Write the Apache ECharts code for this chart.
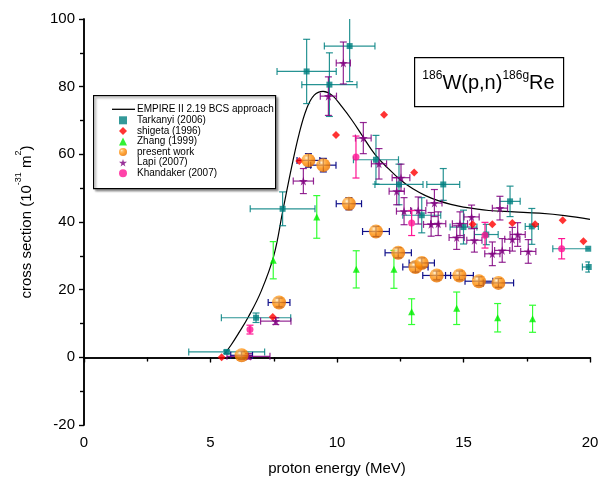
<!DOCTYPE html>
<html><head><meta charset="utf-8">
<script src="https://cdn.jsdelivr.net/npm/echarts@6/dist/echarts.min.js"></script>
<style>html,body{margin:0;padding:0;background:#fff}#c{width:607px;height:487px}</style>
</head><body><div id="c"></div>
<script>
// EMPIRE II curve
const curveE = [5.55,5.8,6.1,6.5,7.0,7.5,7.85,8.2,8.5,8.8,9.1,9.45,9.8,10.2,10.6,11.0,11.5,12.0,12.5,13.0,13.5,14.0,14.5,15.0,16.0,17.0,18.0,19.0,20.0];
const curveS = [1,3.5,7,12,19.5,30,43,56,66,73.5,77.5,78.6,77.5,74,70,65.5,60,56,52.5,49.8,47.8,46.3,45.2,44.4,43.4,43.0,42.6,41.9,40.8];
// Tarkanyi (2006)
const tarkE  = [5.64,6.8,7.85,8.8,9.7,10.5,11.54,12.45,14.2,13.35,15.0,15.9,16.84,17.7,19.93,19.95];
const tarkS  = [1.6,11.7,43.9,84.5,80.6,92,58.4,51.1,51.1,42,38.5,36.3,46.1,38.7,32.1,26.7];
const tarkDE = [1.5,1.37,1.28,1.17,1.09,1.0,0.89,0.95,0.65,0.75,0.53,0.47,0.4,0.26,1.4,0.25];
const tarkDS = [0.5,1.4,5,9.5,9.4,10.5,7.2,6,4.7,5.2,5,3,4.5,5.3,0,1.5];
// shigeta (1996)
const shigE = [5.44,7.46,8.51,9.96,11.86,13.05,15.36,16.14,16.93,17.83,18.92,19.74];
const shigS = [0,11.9,58,65.7,71.7,54.6,39.3,39.3,39.7,39.3,40.5,34.3];
// Zhang (1999)
const zhangE  = [7.48,9.2,10.76,12.25,12.95,14.73,16.35,17.73];
const zhangS  = [28.7,41.5,26,26,13.5,14.5,11.7,11.4];
const zhangDS = [5.5,6.3,5.5,5.6,3.8,4.8,4.2,4];
// present work
const presE  = [6.23,7.71,8.87,9.46,10.47,11.54,12.42,13.1,13.35,13.94,14.84,15.61,16.38];
const presS  = [0.6,16.2,58.2,56.8,45.4,37.2,30.9,26.7,27.9,24.2,24.2,22.5,22.0];
const presDE = [0.43,0.43,0.45,0.5,0.5,0.53,0.52,0.5,0.5,0.55,0.55,0.55,0.6];
const presDS = [1.2,1.3,2,2,1.8,1.5,1.5,1.5,1.5,1.3,1.3,1.3,1.3];
// Lapi (2007)
const lapiE  = [6.5,7.58,8.67,9.66,10.25,11.04,11.66,12.53,12.36,12.65,13.21,13.85,13.72,14.0,14.73,14.86,15.32,15.43,16.14,16.53,16.44,16.93,17.14,17.56];
const lapiS  = [0.3,10.7,52.1,77.2,87,64.8,57.2,53.1,49.1,43.2,43.4,45.6,39.3,39.5,35.4,39.5,41.5,34.6,30.6,31.6,44.1,34.9,36.3,31.3];
const lapiDE = [0.85,0.6,0.4,0.32,0.28,0.31,0.3,0.35,0.3,0.3,0.3,0.3,0.3,0.3,0.3,0.3,0.3,0.3,0.3,0.3,0.3,0.3,0.3,0.3];
const lapiDS = [0.8,1,3.7,5.7,6.2,4.6,4.5,4,4,4,4,4,3.5,3.5,3.5,3.5,3.5,3.5,3.5,3.5,3.5,3.5,3.5,3.5];
// Khandaker (2007)
const khanE  = [6.56,10.75,12.95,15.85,18.88];
const khanS  = [8.2,59.2,39.7,36.1,32.1];
const khanDS = [1.3,6.2,3.7,3.8,3];

const xTicks = [0,5,10,15,20];
const yTicks = [-20,0,20,40,60,80,100];

const FONT = 'Liberation Sans, Arial, sans-serif';
const zip = (a,b) => a.map((v,i)=>[v,b[i]]);
const err4 = (e,s,de,ds) => e.map((v,i)=>[v,s[i],de?de[i]:0,ds?ds[i]:0]);

function errSeries(name, data, color, cap) {
  return {
    type: 'custom', name: name, data: data, clip: true, z: 3,
    encode: {x:0, y:1},
    renderItem: function(params, api) {
      const x=api.value(0), y=api.value(1), dx=api.value(2), dy=api.value(3);
      const st = {stroke: color, lineWidth: 1.2};
      const ch = [];
      if (dx > 0) {
        const l = api.coord([x-dx,y]), r = api.coord([x+dx,y]);
        ch.push({type:'line', shape:{x1:l[0],y1:l[1],x2:r[0],y2:r[1]}, style:st});
        ch.push({type:'line', shape:{x1:l[0],y1:l[1]-cap,x2:l[0],y2:l[1]+cap}, style:st});
        ch.push({type:'line', shape:{x1:r[0],y1:r[1]-cap,x2:r[0],y2:r[1]+cap}, style:st});
      }
      if (dy > 0) {
        const t = api.coord([x,y+dy]), b = api.coord([x,y-dy]);
        ch.push({type:'line', shape:{x1:t[0],y1:t[1],x2:b[0],y2:b[1]}, style:st});
        ch.push({type:'line', shape:{x1:t[0]-cap,y1:t[1],x2:t[0]+cap,y2:t[1]}, style:st});
        ch.push({type:'line', shape:{x1:b[0]-cap,y1:b[1],x2:b[0]+cap,y2:b[1]}, style:st});
      }
      return {type:'group', children: ch};
    }
  };
}

const star = 'path://M50,0 L61,35 L98,35 L68,57 L79,91 L50,70 L21,91 L32,57 L2,35 L39,35 Z';
const sphere = {type:'radial', x:0.35, y:0.32, r:0.75, colorStops:[
  {offset:0, color:'#fff4dc'}, {offset:0.18, color:'#ffb24a'}, {offset:0.55, color:'#ff8a00'}, {offset:1, color:'#e06a00'}]};

const axisLine = {show:true, lineStyle:{color:'#000', width:1.5}};
const legendText = {fontSize:10, color:'#000', fontFamily:FONT, lineHeight:10.6};
const chart = echarts.init(document.getElementById('c'), null, {renderer:'canvas'});
chart.setOption({
  animation: false,
  backgroundColor: '#fff',
  grid: {left:84, right:17, top:19, bottom:62},
  xAxis: [{
    type:'value', min:0, max:20, interval:5, position:'bottom',
    axisLine: axisLine,
    axisTick: {show:true, inside:false, length:5, lineStyle:{color:'#000', width:1.2}},
    minorTick: {show:true, splitNumber:2, length:4, lineStyle:{color:'#000', width:1.2}},
    splitLine: {show:false},
    axisLabel: {fontSize:15, color:'#000', fontFamily:FONT, margin:10,
      formatter: v => xTicks.indexOf(v) >= 0 ? String(v) : ''},
    name: 'proton energy (MeV)', nameLocation:'middle', nameGap:36,
    nameTextStyle: {fontSize:15, color:'#000', fontFamily:FONT}
  },{
    type:'value', min:0, max:20, interval:5, position:'top',
    axisLine: axisLine,
    axisTick: {show:true, inside:true, length:5, lineStyle:{color:'#000', width:1.2}},
    minorTick: {show:true, splitNumber:2, length:4, lineStyle:{color:'#000', width:1.2}},
    splitLine: {show:false}, axisLabel: {show:false}
  }],
  yAxis: [{
    type:'value', min:-20, max:100, interval:20, position:'left',
    axisLine: axisLine,
    axisTick: {show:true, inside:false, length:5, lineStyle:{color:'#000', width:1.2}},
    minorTick: {show:true, splitNumber:2, length:4, lineStyle:{color:'#000', width:1.2}},
    splitLine: {show:false},
    axisLabel: {fontSize:15, color:'#000', fontFamily:FONT, margin:9,
      formatter: v => yTicks.indexOf(v) >= 0 ? String(v) : ''},
    name: '{m|cross section (10}{s|-31}{m| m}{s|2}{m|)}', nameLocation:'middle', nameGap:50, nameRotate:90,
    nameTextStyle: {color:'#000', fontFamily:FONT, rich:{
      m:{fontSize:15, fontFamily:FONT, color:'#000', lineHeight:20, verticalAlign:'bottom'},
      s:{fontSize:9, fontFamily:FONT, color:'#000', lineHeight:20, verticalAlign:'top'}}}
  },{
    type:'value', min:-20, max:100, interval:20, position:'right',
    axisLine: axisLine,
    axisTick: {show:true, inside:true, length:5, lineStyle:{color:'#000', width:1.2}},
    minorTick: {show:true, splitNumber:2, length:4, lineStyle:{color:'#000', width:1.2}},
    splitLine: {show:false}, axisLabel: {show:false}
  }],
  legend: [{
    orient:'vertical', left:112, top:104, itemGap:0, itemWidth:23, itemHeight:1.3,
    padding:0, selectedMode:false, z:6,
    textStyle: Object.assign({padding:[0,0,0,-3]}, legendText),
    data: [{name:'EMPIRE II 2.19 BCS approach', icon:'rect', itemStyle:{color:'#000'}}]
  },{
    orient:'vertical', left:119, top:115, itemGap:0, itemWidth:8, itemHeight:8,
    padding:0, selectedMode:false, z:6,
    textStyle: Object.assign({padding:[0,0,0,5]}, legendText),
    data: [
      {name:'Tarkanyi (2006)', icon:'rect'},
      {name:'shigeta (1996)', icon:'diamond'},
      {name:'Zhang (1999)', icon:'triangle'},
      {name:'present work', icon:'circle'},
      {name:'Lapi (2007)', icon:star},
      {name:'Khandaker (2007)', icon:'circle'}
    ]
  }],
  graphic: [
    {type:'rect', left:93, top:95, z:0, shape:{width:182, height:93},
      style:{fill:'#fff', stroke:'#000', lineWidth:1.2, shadowColor:'rgba(0,0,0,0.35)', shadowOffsetX:2, shadowOffsetY:2, shadowBlur:2}},
    {type:'rect', left:414, top:57, z:0, shape:{width:149, height:49},
      style:{fill:'#fff', stroke:'#000', lineWidth:1.2}},
    {type:'text', x:488.5, y:81.5, z:5, style:{
      text:'{s|186}{m|W(p,n)}{s|186g}{m|Re}', align:'center', verticalAlign:'middle',
      rich:{m:{fontSize:20, fontFamily:FONT, fill:'#000', lineHeight:24, verticalAlign:'bottom'},
            s:{fontSize:12, fontFamily:FONT, fill:'#000', lineHeight:24, verticalAlign:'top'}}}}
  ],
  series: [
    {type:'line', name:'EMPIRE II 2.19 BCS approach', data: zip(curveE, curveS), smooth:0.4,
      symbol:'none', lineStyle:{color:'#000', width:1.2}, itemStyle:{color:'#000'}, z:2},
    errSeries('e_tark', err4(tarkE,tarkS,tarkDE,tarkDS), 'rgba(0,128,128,0.85)', 3.5),
    {type:'scatter', name:'Tarkanyi (2006)', data: zip(tarkE,tarkS), symbol:'rect', symbolSize:6,
      itemStyle:{color:'#008080'}, z:4},
    {type:'scatter', name:'shigeta (1996)', data: zip(shigE,shigS), symbol:'diamond', symbolSize:8,
      itemStyle:{color:'#ff0000'}, z:4},
    errSeries('e_zhang', err4(zhangE,zhangS,null,zhangDS), '#33ff33', 3.5),
    {type:'scatter', name:'Zhang (1999)', data: zip(zhangE,zhangS), symbol:'triangle', symbolSize:7,
      itemStyle:{color:'#00ee00'}, z:4},
    {type:'scatter', name:'present work', data: zip(presE,presS), symbol:'circle', symbolSize:14,
      itemStyle:{color:sphere}, z:5},
    errSeries('e_pres', err4(presE,presS,presDE,presDS), '#10108a', 3.5),
    errSeries('e_lapi', err4(lapiE,lapiS,lapiDE,lapiDS), 'rgba(128,0,128,0.85)', 3.5),
    {type:'scatter', name:'Lapi (2007)', data: zip(lapiE,lapiS), symbol:star, symbolSize:9,
      itemStyle:{color:'#800080'}, z:4},
    errSeries('e_khan', err4(khanE,khanS,null,khanDS), '#ff1493', 3.5),
    {type:'scatter', name:'Khandaker (2007)', data: zip(khanE,khanS), symbol:'circle', symbolSize:7,
      itemStyle:{color:'#ff1493'}, z:4}
  ]
});
</script>
</body></html>
